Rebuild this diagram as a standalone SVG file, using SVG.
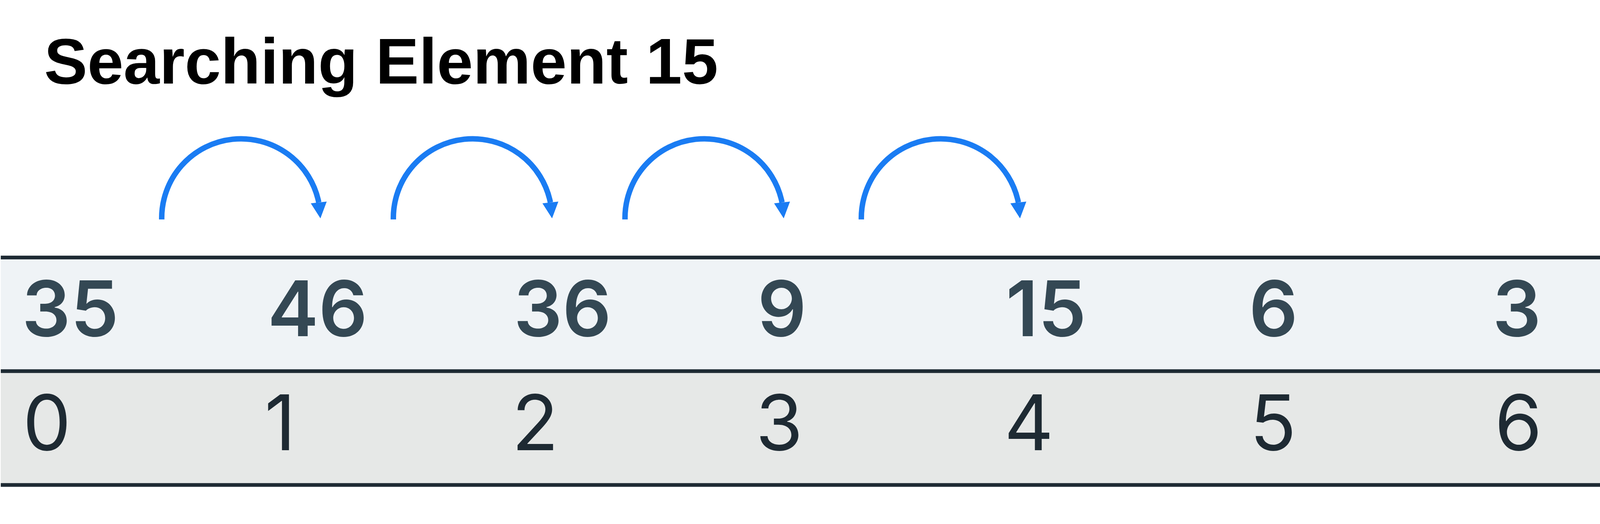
<svg xmlns="http://www.w3.org/2000/svg" width="4409" height="1342" viewBox="0 0 4409 1342">
<style>
.title{font-family:"Liberation Sans",Arial,sans-serif;font-weight:700;font-size:166px;fill:#000}
.val{font-family:Inter,Roboto,"Liberation Sans",sans-serif;font-weight:600;font-size:196px;fill:#344854;text-anchor:middle}
.idx{font-family:Inter,Roboto,"Liberation Sans",sans-serif;font-weight:400;font-size:196px;fill:#1e2a33;text-anchor:middle}
.rule{stroke:#1e2a33;stroke-width:9.5}
.arc{fill:none;stroke:#1a7cf3;stroke-width:14;marker-end:url(#ah)}
</style>
<defs>
<marker id="ah" markerUnits="userSpaceOnUse" markerWidth="44" markerHeight="44" refX="0" refY="20.5" orient="84" overflow="visible">
<path d="M0,0 L41,20.5 L0,41 Z" fill="#1a7cf3"/>
</marker>
</defs>
<rect width="4409" height="1342" fill="#fff"/>
<g id="title"><text class="title" x="113" y="214">Searching Element 15</text></g>
<g id="table">
<rect x="2" y="664" width="4400" height="282" fill="#eff3f6"/>
<rect x="2" y="955" width="4400" height="282" fill="#e6e8e7"/>
<line class="rule" x1="2" y1="659.5" x2="4402" y2="659.5"/>
<line class="rule" x1="2" y1="950.5" x2="4402" y2="950.5"/>
<line class="rule" x1="2" y1="1242" x2="4402" y2="1242"/>
</g>
<g id="values">
<text class="val" x="180" y="861">35</text>
<text class="val" x="813" y="861">46</text>
<text class="val" x="1440" y="861">36</text>
<text class="val" x="2002" y="861">9</text>
<text class="val" x="2678" y="861">15</text>
<text class="val" x="3260" y="861">6</text>
<text class="val" x="3883" y="861">3</text>
</g>
<g id="indices">
<text class="idx" x="120" y="1153">0</text>
<text class="idx" x="717" y="1153">1</text>
<text class="idx" x="1370" y="1153">2</text>
<text class="idx" x="1995" y="1153">3</text>
<text class="idx" x="2634" y="1153">4</text>
<text class="idx" x="3259" y="1153">5</text>
<text class="idx" x="3887" y="1153">6</text>
</g>
<g id="connectors">
<path class="arc" d="M414,562 A203,203 0 0 1 816,518.5"/>
<path class="arc" d="M1007,562 A203,203 0 0 1 1409,518.5"/>
<path class="arc" d="M1600,562 A203,203 0 0 1 2002,518.5"/>
<path class="arc" d="M2205,562 A203,203 0 0 1 2607,518.5"/>
</g>
</svg>
